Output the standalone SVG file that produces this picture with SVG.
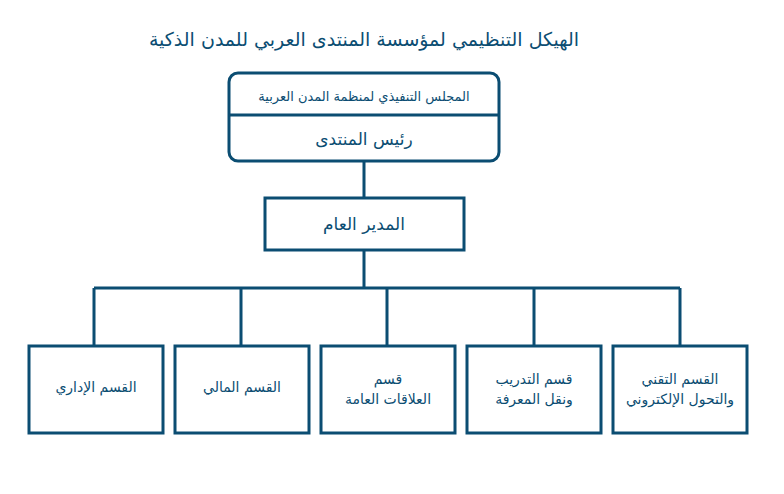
<svg xmlns="http://www.w3.org/2000/svg" width="784" height="494" viewBox="0 0 784 494">
<style>
.b{fill:#fff;stroke:#0b4d72;stroke-width:3}
.c{fill:none;stroke:#0b4d72;stroke-width:3}
text{font-family:"DejaVu Sans",sans-serif;fill:#0b4d72;text-anchor:middle;direction:rtl}
</style>
<rect width="784" height="494" fill="#fff"/>
<text x="364" y="46" font-size="19">الهيكل التنظيمي لمؤسسة المنتدى العربي للمدن الذكية</text>
<g id="connectors" class="c">
<path d="M364 161V198M364 250V288M94 288H680M94 288V346M241 288V346M387 288V346M534 288V346M680 288V346"/>
</g>
<g id="board">
<rect class="b" x="229" y="73" width="270" height="88" rx="9"/>
<line class="c" x1="229" y1="115" x2="499" y2="115"/>
<text x="364" y="101" font-size="13">المجلس التنفيذي لمنظمة المدن العربية</text>
<text x="364" y="145" font-size="17">رئيس المنتدى</text>
</g>
<g id="gm">
<rect class="b" x="265" y="198" width="199" height="52"/>
<text x="364" y="230" font-size="17">المدير العام</text>
</g>
<g id="admin"><rect class="b" x="29" y="346" width="134" height="87"/><text x="96" y="392" font-size="14">القسم الإداري</text></g>
<g id="finance"><rect class="b" x="175" y="346" width="134" height="87"/><text x="242" y="392" font-size="14">القسم المالي</text></g>
<g id="pr"><rect class="b" x="321" y="346" width="134" height="87"/><text x="388" y="384" font-size="14">قسم</text><text x="388" y="404" font-size="14">العلاقات العامة</text></g>
<g id="training"><rect class="b" x="467" y="346" width="134" height="87"/><text x="534" y="384" font-size="14">قسم التدريب</text><text x="534" y="404" font-size="14">ونقل المعرفة</text></g>
<g id="tech"><rect class="b" x="613" y="346" width="134" height="87"/><text x="680" y="384" font-size="14">القسم التقني</text><text x="680" y="404" font-size="14">والتحول الإلكتروني</text></g>
</svg>
